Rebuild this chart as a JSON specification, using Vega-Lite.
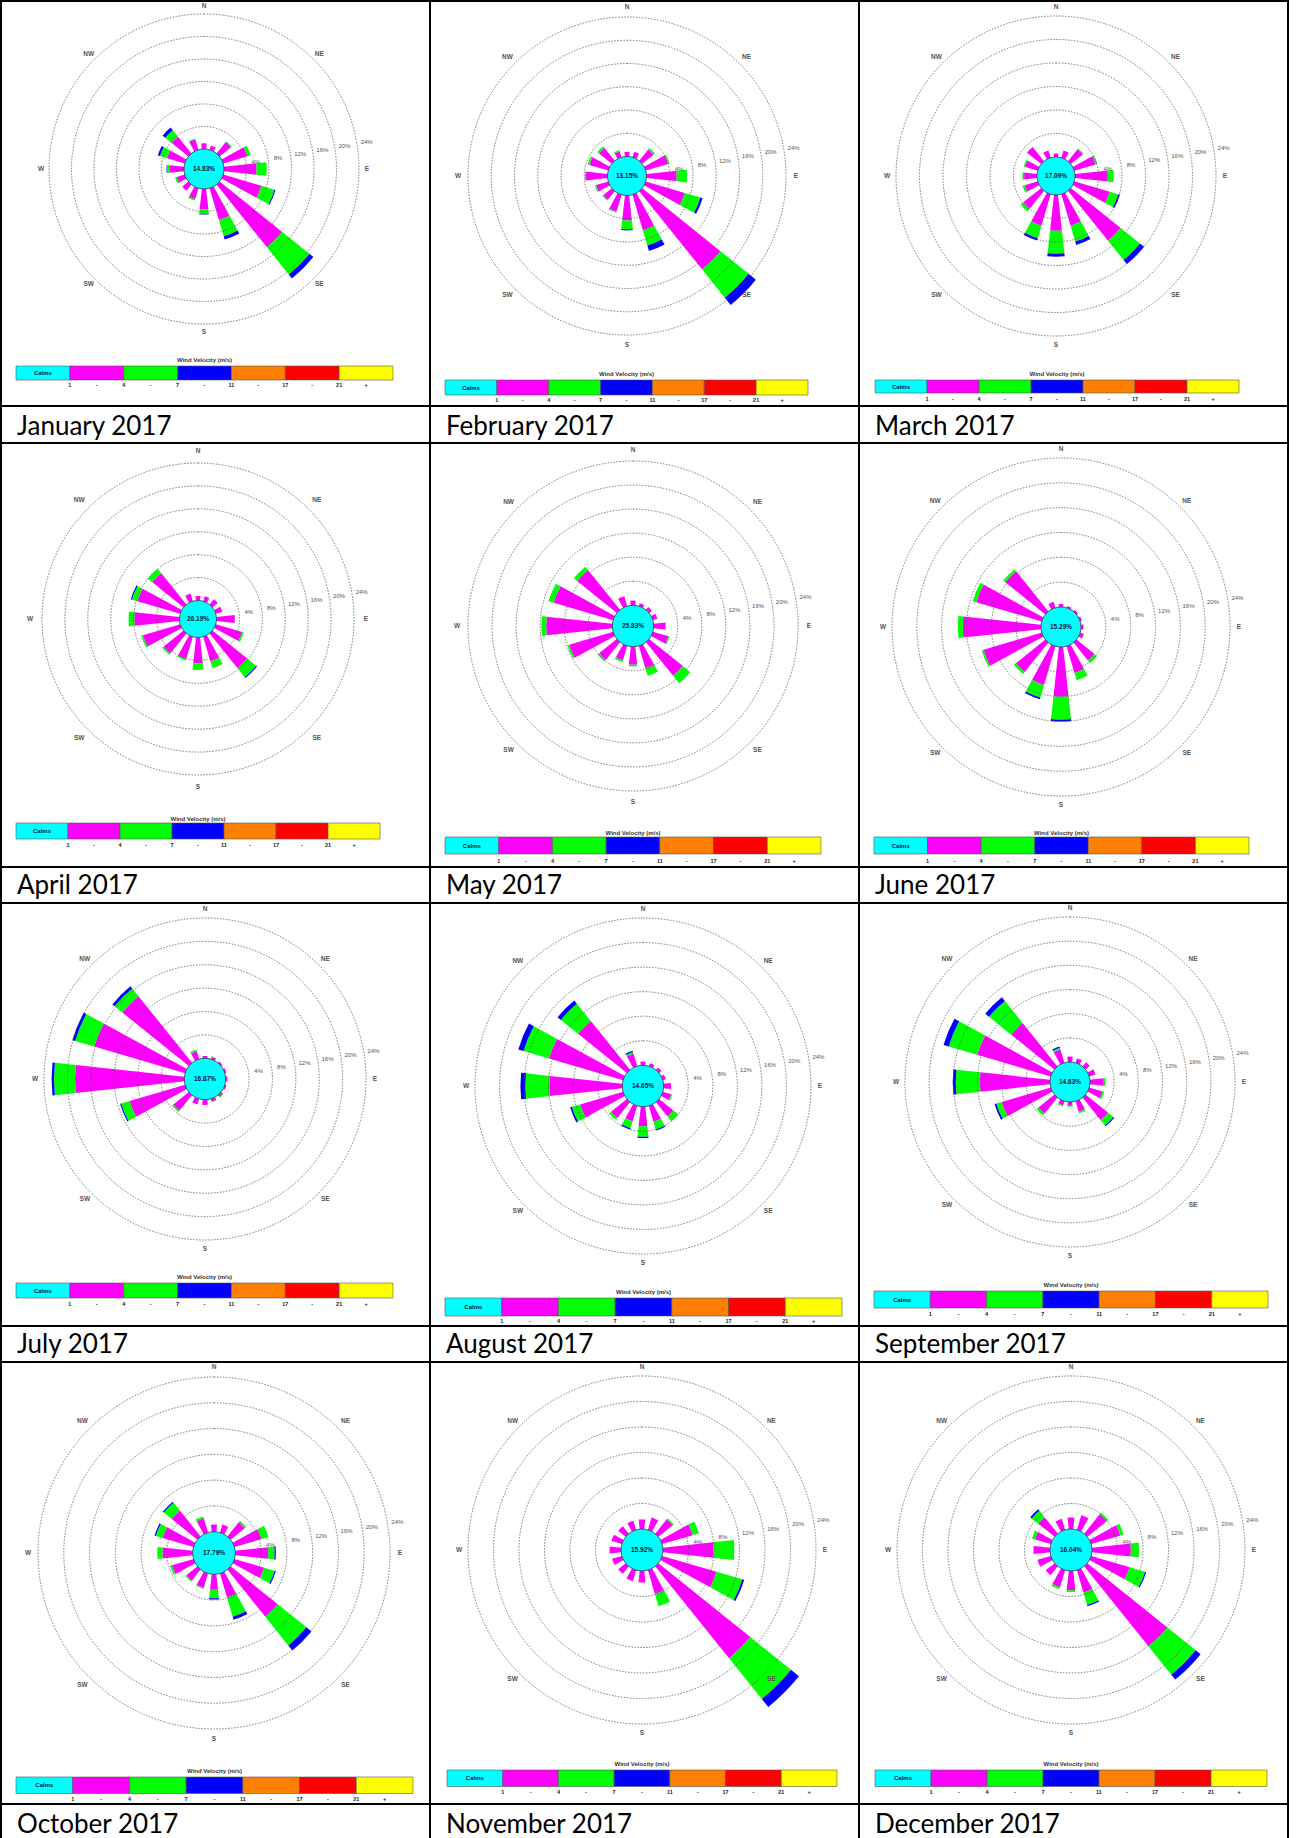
{
"$schema": "https://vega.github.io/schema/vega-lite/v6.json",
"background": "black",
"padding": 2,
"config": {"view": {"stroke": null, "fill": "white"}, "text": {"font": "Liberation Sans", "fontWeight": "bold", "fontSize": 6}},
"datasets": {
"rings": [{"p":4,"t":"4%"},{"p":8,"t":"8%"},{"p":12,"t":"12%"},{"p":16,"t":"16%"},{"p":20,"t":"20%"},{"p":24,"t":"24%"}],
"dirs": [{"n":"N","d":0},{"n":"NE","d":45},{"n":"E","d":90},{"n":"SE","d":135},{"n":"S","d":180},{"n":"SW","d":225},{"n":"W","d":270},{"n":"NW","d":315}],
"bins": [{"k":"c","edge":"1","mid":""},{"k":"s1","edge":"4","mid":"-"},{"k":"s2","edge":"7","mid":"-"},{"k":"s3","edge":"11","mid":"-"},{"k":"s4","edge":"17","mid":"-"},{"k":"s5","edge":"21","mid":"-"},{"k":"s6","edge":"","mid":"+"}],
"months": [
{"m":"Jan","name":"January 2017","c":0.1483},{"m":"Feb","name":"February 2017","c":0.1315},{"m":"Mar","name":"March 2017","c":0.1709},
{"m":"Apr","name":"April 2017","c":0.2619},{"m":"May","name":"May 2017","c":0.2583},{"m":"Jun","name":"June 2017","c":0.1529},
{"m":"Jul","name":"July 2017","c":0.1687},{"m":"Aug","name":"August 2017","c":0.1465},{"m":"Sep","name":"September 2017","c":0.1463},
{"m":"Oct","name":"October 2017","c":0.1779},{"m":"Nov","name":"November 2017","c":0.1592},{"m":"Dec","name":"December 2017","c":0.1604}],
"wind": [
{"m":"Jan","d":0,"s1":1.0,"s2":0,"s3":0},{"m":"Jan","d":22.5,"s1":0.8,"s2":0,"s3":0},{"m":"Jan","d":45,"s1":2.6,"s2":0.2,"s3":0},{"m":"Jan","d":67.5,"s1":4.5,"s2":0.6,"s3":0},
{"m":"Jan","d":90,"s1":5.8,"s2":1.8,"s3":0},{"m":"Jan","d":112.5,"s1":7.1,"s2":2.4,"s3":0.2},{"m":"Jan","d":135,"s1":14.3,"s2":6.2,"s3":0.9},{"m":"Jan","d":157.5,"s1":5.9,"s2":3.0,"s3":0.6},
{"m":"Jan","d":180,"s1":3.6,"s2":0.8,"s3":0.15},{"m":"Jan","d":202.5,"s1":2.0,"s2":0.3,"s3":0},{"m":"Jan","d":225,"s1":1.4,"s2":0,"s3":0},{"m":"Jan","d":247.5,"s1":1.5,"s2":0.3,"s3":0},
{"m":"Jan","d":270,"s1":2.5,"s2":0.5,"s3":0.1},{"m":"Jan","d":292.5,"s1":3.3,"s2":1.3,"s3":0.4},{"m":"Jan","d":315,"s1":3.8,"s2":1.5,"s3":0.6},{"m":"Jan","d":337.5,"s1":1.9,"s2":0.2,"s3":0},
{"m":"Feb","d":0,"s1":0.8,"s2":0,"s3":0},{"m":"Feb","d":22.5,"s1":1.0,"s2":0,"s3":0},{"m":"Feb","d":45,"s1":2.5,"s2":0.3,"s3":0},{"m":"Feb","d":67.5,"s1":4.0,"s2":0.3,"s3":0},
{"m":"Feb","d":90,"s1":5.2,"s2":1.8,"s3":0},{"m":"Feb","d":112.5,"s1":7.0,"s2":2.8,"s3":0.4},{"m":"Feb","d":135,"s1":17.3,"s2":6.2,"s3":1.6},{"m":"Feb","d":157.5,"s1":6.4,"s2":2.7,"s3":1.0},
{"m":"Feb","d":180,"s1":4.3,"s2":1.5,"s3":0.2},{"m":"Feb","d":202.5,"s1":3.0,"s2":0.2,"s3":0},{"m":"Feb","d":225,"s1":1.9,"s2":0.2,"s3":0},{"m":"Feb","d":247.5,"s1":2.2,"s2":0.2,"s3":0},
{"m":"Feb","d":270,"s1":3.7,"s2":0.2,"s3":0},{"m":"Feb","d":292.5,"s1":3.4,"s2":0.3,"s3":0},{"m":"Feb","d":315,"s1":2.8,"s2":0.4,"s3":0},{"m":"Feb","d":337.5,"s1":1.1,"s2":0.2,"s3":0},
{"m":"Mar","d":0,"s1":0.6,"s2":0,"s3":0},{"m":"Mar","d":22.5,"s1":1.3,"s2":0,"s3":0},{"m":"Mar","d":45,"s1":2.6,"s2":0.2,"s3":0},{"m":"Mar","d":67.5,"s1":3.8,"s2":0.3,"s3":0},
{"m":"Mar","d":90,"s1":5.6,"s2":1.0,"s3":0},{"m":"Mar","d":112.5,"s1":6.3,"s2":1.5,"s3":0.3},{"m":"Mar","d":135,"s1":10.9,"s2":4.2,"s3":0.9},{"m":"Mar","d":157.5,"s1":5.6,"s2":2.8,"s3":0.6},
{"m":"Mar","d":180,"s1":6.1,"s2":3.9,"s3":0.5},{"m":"Mar","d":202.5,"s1":5.6,"s2":2.2,"s3":0.4},{"m":"Mar","d":225,"s1":3.9,"s2":0.6,"s3":0},{"m":"Mar","d":247.5,"s1":2.3,"s2":0.4,"s3":0},
{"m":"Mar","d":270,"s1":2.2,"s2":0.3,"s3":0},{"m":"Mar","d":292.5,"s1":2.3,"s2":0.2,"s3":0},{"m":"Mar","d":315,"s1":3.1,"s2":0,"s3":0},{"m":"Mar","d":337.5,"s1":1.3,"s2":0,"s3":0},
{"m":"Apr","d":0,"s1":0.8,"s2":0,"s3":0},{"m":"Apr","d":22.5,"s1":0.9,"s2":0,"s3":0},{"m":"Apr","d":45,"s1":1.2,"s2":0,"s3":0},{"m":"Apr","d":67.5,"s1":1.2,"s2":0,"s3":0},
{"m":"Apr","d":90,"s1":3.2,"s2":0,"s3":0},{"m":"Apr","d":112.5,"s1":4.8,"s2":0.3,"s3":0},{"m":"Apr","d":135,"s1":7.8,"s2":2.0,"s3":0.2},{"m":"Apr","d":157.5,"s1":4.5,"s2":1.2,"s3":0},
{"m":"Apr","d":180,"s1":4.5,"s2":1.2,"s3":0},{"m":"Apr","d":202.5,"s1":4.0,"s2":0.3,"s3":0},{"m":"Apr","d":225,"s1":4.5,"s2":0.3,"s3":0},{"m":"Apr","d":247.5,"s1":6.8,"s2":0.3,"s3":0},
{"m":"Apr","d":270,"s1":7.9,"s2":1.0,"s3":0},{"m":"Apr","d":292.5,"s1":7.8,"s2":1.0,"s3":0.2},{"m":"Apr","d":315,"s1":7.0,"s2":1.0,"s3":0},{"m":"Apr","d":337.5,"s1":1.4,"s2":0,"s3":0},
{"m":"May","d":0,"s1":0.8,"s2":0,"s3":0},{"m":"May","d":22.5,"s1":0.5,"s2":0,"s3":0},{"m":"May","d":45,"s1":0.6,"s2":0,"s3":0},{"m":"May","d":67.5,"s1":0.8,"s2":0,"s3":0},
{"m":"May","d":90,"s1":2.0,"s2":0,"s3":0},{"m":"May","d":112.5,"s1":2.7,"s2":0.2,"s3":0},{"m":"May","d":135,"s1":7.2,"s2":1.6,"s3":0},{"m":"May","d":157.5,"s1":3.9,"s2":1.3,"s3":0},
{"m":"May","d":180,"s1":3.0,"s2":0.3,"s3":0},{"m":"May","d":202.5,"s1":2.5,"s2":0.3,"s3":0},{"m":"May","d":225,"s1":3.8,"s2":0.3,"s3":0},{"m":"May","d":247.5,"s1":7.6,"s2":0.3,"s3":0},
{"m":"May","d":270,"s1":11.0,"s2":0.8,"s3":0},{"m":"May","d":292.5,"s1":10.3,"s2":0.9,"s3":0},{"m":"May","d":315,"s1":8.5,"s2":0.7,"s3":0},{"m":"May","d":337.5,"s1":1.7,"s2":0,"s3":0},
{"m":"Jun","d":0,"s1":0.5,"s2":0,"s3":0},{"m":"Jun","d":22.5,"s1":0.3,"s2":0,"s3":0},{"m":"Jun","d":45,"s1":0.3,"s2":0,"s3":0},{"m":"Jun","d":67.5,"s1":0.3,"s2":0,"s3":0},
{"m":"Jun","d":90,"s1":0.4,"s2":0,"s3":0},{"m":"Jun","d":112.5,"s1":0.6,"s2":0,"s3":0},{"m":"Jun","d":135,"s1":3.7,"s2":0.5,"s3":0},{"m":"Jun","d":157.5,"s1":4.5,"s2":1.2,"s3":0},
{"m":"Jun","d":180,"s1":8.0,"s2":3.7,"s3":0.3},{"m":"Jun","d":202.5,"s1":6.5,"s2":2.1,"s3":0.3},{"m":"Jun","d":225,"s1":6.1,"s2":0.4,"s3":0},{"m":"Jun","d":247.5,"s1":9.8,"s2":0.3,"s3":0},
{"m":"Jun","d":270,"s1":12.6,"s2":0.8,"s3":0},{"m":"Jun","d":292.5,"s1":11.0,"s2":0.6,"s3":0},{"m":"Jun","d":315,"s1":8.3,"s2":0.4,"s3":0},{"m":"Jun","d":337.5,"s1":1.0,"s2":0,"s3":0},
{"m":"Jul","d":0,"s1":0.4,"s2":0,"s3":0},{"m":"Jul","d":22.5,"s1":0.4,"s2":0.1,"s3":0},{"m":"Jul","d":45,"s1":0.3,"s2":0,"s3":0},{"m":"Jul","d":67.5,"s1":0.3,"s2":0,"s3":0},
{"m":"Jul","d":90,"s1":0.3,"s2":0,"s3":0},{"m":"Jul","d":112.5,"s1":0.3,"s2":0,"s3":0},{"m":"Jul","d":135,"s1":0.4,"s2":0.1,"s3":0},{"m":"Jul","d":157.5,"s1":0.5,"s2":0.1,"s3":0},
{"m":"Jul","d":180,"s1":0.9,"s2":0,"s3":0},{"m":"Jul","d":202.5,"s1":1.0,"s2":0,"s3":0},{"m":"Jul","d":225,"s1":3.4,"s2":0.3,"s3":0},{"m":"Jul","d":247.5,"s1":9.9,"s2":1.5,"s3":0.2},
{"m":"Jul","d":270,"s1":18.7,"s2":3.6,"s3":0.4},{"m":"Jul","d":292.5,"s1":16.2,"s2":3.4,"s3":0.5},{"m":"Jul","d":315,"s1":14.6,"s2":1.7,"s3":0.5},{"m":"Jul","d":337.5,"s1":1.4,"s2":0.3,"s3":0},
{"m":"Aug","d":0,"s1":0.6,"s2":0,"s3":0},{"m":"Aug","d":22.5,"s1":0.5,"s2":0,"s3":0},{"m":"Aug","d":45,"s1":0.5,"s2":0,"s3":0},{"m":"Aug","d":67.5,"s1":0.5,"s2":0,"s3":0},
{"m":"Aug","d":90,"s1":1.2,"s2":0,"s3":0},{"m":"Aug","d":112.5,"s1":1.4,"s2":0.2,"s3":0},{"m":"Aug","d":135,"s1":3.0,"s2":1.0,"s3":0},{"m":"Aug","d":157.5,"s1":2.7,"s2":1.3,"s3":0.2},
{"m":"Aug","d":180,"s1":3.2,"s2":1.7,"s3":0.2},{"m":"Aug","d":202.5,"s1":2.6,"s2":1.2,"s3":0.2},{"m":"Aug","d":225,"s1":3.3,"s2":0.4,"s3":0},{"m":"Aug","d":247.5,"s1":7.3,"s2":1.4,"s3":0.3},
{"m":"Aug","d":270,"s1":11.9,"s2":3.9,"s3":0.8},{"m":"Aug","d":292.5,"s1":12.6,"s2":4.3,"s3":0.9},{"m":"Aug","d":315,"s1":10.2,"s2":3.6,"s3":0.7},{"m":"Aug","d":337.5,"s1":2.1,"s2":0.3,"s3":0.2},
{"m":"Sep","d":0,"s1":0.9,"s2":0,"s3":0},{"m":"Sep","d":22.5,"s1":0.8,"s2":0,"s3":0},{"m":"Sep","d":45,"s1":0.9,"s2":0,"s3":0},{"m":"Sep","d":67.5,"s1":1.1,"s2":0,"s3":0},
{"m":"Sep","d":90,"s1":2.3,"s2":0.3,"s3":0},{"m":"Sep","d":112.5,"s1":2.3,"s2":0.3,"s3":0},{"m":"Sep","d":135,"s1":4.8,"s2":1.1,"s3":0.2},{"m":"Sep","d":157.5,"s1":1.8,"s2":0.3,"s3":0},
{"m":"Sep","d":180,"s1":0.6,"s2":0.2,"s3":0},{"m":"Sep","d":202.5,"s1":0.7,"s2":0.2,"s3":0},{"m":"Sep","d":225,"s1":3.4,"s2":0.4,"s3":0},{"m":"Sep","d":247.5,"s1":8.5,"s2":0.9,"s3":0.3},
{"m":"Sep","d":270,"s1":11.6,"s2":4.0,"s3":0.5},{"m":"Sep","d":292.5,"s1":12.7,"s2":4.9,"s3":0.9},{"m":"Sep","d":315,"s1":9.2,"s2":4.7,"s3":0.8},{"m":"Sep","d":337.5,"s1":2.3,"s2":0.3,"s3":0.2},
{"m":"Oct","d":0,"s1":1.1,"s2":0,"s3":0},{"m":"Oct","d":22.5,"s1":1.3,"s2":0,"s3":0},{"m":"Oct","d":45,"s1":2.8,"s2":0.3,"s3":0},{"m":"Oct","d":67.5,"s1":4.4,"s2":1.1,"s3":0},
{"m":"Oct","d":90,"s1":5.1,"s2":1.0,"s3":0.2},{"m":"Oct","d":112.5,"s1":4.8,"s2":1.7,"s3":0.2},{"m":"Oct","d":135,"s1":9.4,"s2":5.7,"s3":1.0},{"m":"Oct","d":157.5,"s1":3.9,"s2":3.1,"s3":0.5},
{"m":"Oct","d":180,"s1":2.4,"s2":1.3,"s3":0.2},{"m":"Oct","d":202.5,"s1":2.3,"s2":0.2,"s3":0},{"m":"Oct","d":225,"s1":2.2,"s2":0.2,"s3":0},{"m":"Oct","d":247.5,"s1":3.5,"s2":0.3,"s3":0},
{"m":"Oct","d":270,"s1":4.7,"s2":0.8,"s3":0},{"m":"Oct","d":292.5,"s1":5.0,"s2":1.1,"s3":0.2},{"m":"Oct","d":315,"s1":5.1,"s2":1.6,"s3":0.2},{"m":"Oct","d":337.5,"s1":2.3,"s2":0.3,"s3":0},
{"m":"Nov","d":0,"s1":1.5,"s2":0,"s3":0},{"m":"Nov","d":22.5,"s1":2.0,"s2":0,"s3":0},{"m":"Nov","d":45,"s1":2.9,"s2":0.2,"s3":0},{"m":"Nov","d":67.5,"s1":5.0,"s2":1.0,"s3":0},
{"m":"Nov","d":90,"s1":7.9,"s2":3.3,"s3":0},{"m":"Nov","d":112.5,"s1":8.9,"s2":4.2,"s3":0.3},{"m":"Nov","d":135,"s1":18.5,"s2":8.2,"s3":1.6},{"m":"Nov","d":157.5,"s1":3.9,"s2":2.0,"s3":0},
{"m":"Nov","d":180,"s1":1.8,"s2":0,"s3":0},{"m":"Nov","d":202.5,"s1":1.8,"s2":0,"s3":0},{"m":"Nov","d":225,"s1":1.5,"s2":0,"s3":0},{"m":"Nov","d":247.5,"s1":1.6,"s2":0,"s3":0},
{"m":"Nov","d":270,"s1":1.8,"s2":0,"s3":0},{"m":"Nov","d":292.5,"s1":1.7,"s2":0,"s3":0},{"m":"Nov","d":315,"s1":1.5,"s2":0,"s3":0},{"m":"Nov","d":337.5,"s1":1.5,"s2":0,"s3":0},
{"m":"Dec","d":0,"s1":1.8,"s2":0,"s3":0},{"m":"Dec","d":22.5,"s1":2.4,"s2":0,"s3":0},{"m":"Dec","d":45,"s1":3.9,"s2":0.3,"s3":0},{"m":"Dec","d":67.5,"s1":4.8,"s2":0.5,"s3":0},
{"m":"Dec","d":90,"s1":6.1,"s2":1.3,"s3":0},{"m":"Dec","d":112.5,"s1":6.3,"s2":2.5,"s3":0.2},{"m":"Dec","d":135,"s1":16.1,"s2":5.7,"s3":1.0},{"m":"Dec","d":157.5,"s1":3.7,"s2":2.0,"s3":0.2},
{"m":"Dec","d":180,"s1":3.0,"s2":0.3,"s3":0},{"m":"Dec","d":202.5,"s1":2.8,"s2":0.3,"s3":0},{"m":"Dec","d":225,"s1":1.8,"s2":0,"s3":0},{"m":"Dec","d":247.5,"s1":2.2,"s2":0,"s3":0},
{"m":"Dec","d":270,"s1":2.6,"s2":0,"s3":0},{"m":"Dec","d":292.5,"s1":2.6,"s2":0.5,"s3":0},{"m":"Dec","d":315,"s1":3.3,"s2":1.3,"s3":0.3},{"m":"Dec","d":337.5,"s1":1.8,"s2":0,"s3":0}
]
},
"spacing": 2,
"vconcat": [
{"spacing": 2, "hconcat": [
{"spacing": 2, "vconcat": [{"spacing": 0, "vconcat": [{"spacing": 0, "hconcat": [
 {"width": 404, "height": 334, "layer": [
  {"data": {"values": [{}]}, "mark": {"type": "rect", "color": "white"}, "encoding": {}},
  {"data": {"name": "wind"}, "transform": [{"filter": "datum.m == 'Jan'"}, {"fold": ["s1","s2","s3"], "as": ["k","p"]}, {"filter": "datum.p > 0"}, {"stack": "p", "groupby": ["d"], "sort": [{"field": "k", "order": "ascending"}], "as": ["r0","r1"]}],
   "mark": {"type": "arc", "thetaOffset": -0.108, "theta2Offset": 0.108},
   "encoding": {"theta": {"field": "d", "type": "quantitative", "stack": null, "scale": {"domain": [0, 360], "range": [0, 6.283185307179586]}}, "theta2": {"field": "d"},
    "radius": {"field": "r1", "type": "quantitative", "stack": null, "scale": {"type": "linear", "zero": false, "domain": [0, 24], "range": [20, 155]}}, "radius2": {"field": "r0"},
    "color": {"field": "k", "type": "nominal", "legend": null, "scale": {"domain": ["c","s1","s2","s3","s4","s5","s6"], "range": ["#00FFFF","#FF00FF","#00FF00","#0000FF","#FF8000","#FF0000","#FFFF00"]}}}},
  {"data": {"name": "rings"}, "mark": {"type": "arc", "fillOpacity": 0, "stroke": "#555555", "strokeWidth": 0.8, "strokeDash": [1.5, 1.5]}, "encoding": {"theta": {"datum": 0, "type": "quantitative"}, "theta2": {"datum": 360}, "radius": {"field": "p", "type": "quantitative", "stack": null}, "radius2": {"value": 0}}},
  {"data": {"name": "months"}, "transform": [{"filter": "datum.m == 'Jan'"}], "mark": {"type": "arc", "color": "#00FFFF", "fill": "#00FFFF", "fillOpacity": 1, "stroke": "#333333", "strokeWidth": 0.8}, "encoding": {"theta": {"datum": 0, "type": "quantitative"}, "theta2": {"datum": 360}, "radius": {"datum": 0, "type": "quantitative", "stack": null}, "radius2": {"value": 0}}},
  {"data": {"name": "months"}, "transform": [{"filter": "datum.m == 'Jan'"}], "mark": {"type": "text", "fontSize": 6.5, "fill": "#10103a"}, "encoding": {"text": {"field": "c", "type": "quantitative", "format": ".2%"}}},
  {"data": {"name": "dirs"}, "mark": {"type": "text", "fontSize": 6.5, "fill": "#555555"}, "encoding": {"theta": {"field": "d", "type": "quantitative", "stack": null}, "radius": {"datum": 25.42, "type": "quantitative", "stack": null}, "text": {"field": "n"}}},
  {"data": {"name": "rings"}, "mark": {"type": "text", "fontWeight": "normal", "fill": "#555555", "dx": 10}, "encoding": {"theta": {"datum": 80, "type": "quantitative"}, "radius": {"field": "p", "type": "quantitative", "stack": null}, "text": {"field": "t"}}}
 ]},
 {"width": 23, "height": 334, "data": {"values": [{}]}, "mark": {"type": "rect", "color": "white"}, "encoding": {}}
]},
 {"width": 427, "height": 69, "data": {"name": "bins"}, "layer": [
  {"mark": {"type": "rect", "color": "white"}, "encoding": {}},
  {"mark": {"type": "rect", "stroke": "#555555", "strokeWidth": 0.6}, "encoding": {"x": {"field": "k", "type": "nominal", "axis": null, "scale": {"type": "band", "domain": ["c","s1","s2","s3","s4","s5","s6"], "range": [14, 391], "paddingInner": 0, "paddingOuter": 0}}, "y": {"value": 30}, "y2": {"value": 44}, "color": {"field": "k", "type": "nominal", "legend": null, "scale": {"domain": ["c","s1","s2","s3","s4","s5","s6"], "range": ["#00FFFF","#FF00FF","#00FF00","#0000FF","#FF8000","#FF0000","#FFFF00"]}}}},
  {"transform": [{"filter": "datum.k == 'c'"}], "mark": {"type": "text", "text": "Calms", "fill": "#10103a"}, "encoding": {"x": {"field": "k", "type": "nominal", "bandPosition": 0.5}, "y": {"value": 37}}},
  {"mark": {"type": "text", "fontSize": 5.5, "fill": "#222222"}, "encoding": {"x": {"field": "k", "type": "nominal", "bandPosition": 1}, "y": {"value": 49}, "text": {"field": "edge"}}},
  {"mark": {"type": "text", "fontSize": 5.5, "fill": "#222222"}, "encoding": {"x": {"field": "k", "type": "nominal", "bandPosition": 0.5}, "y": {"value": 49}, "text": {"field": "mid"}}},
  {"transform": [{"filter": "datum.k == 's3'"}], "mark": {"type": "text", "text": "Wind Velocity (m/s)", "fill": "#333333"}, "encoding": {"x": {"field": "k", "type": "nominal", "bandPosition": 0.5}, "y": {"value": 24}}}
 ]}
]},
 {"width": 427, "height": 35, "data": {"name": "months"}, "transform": [{"filter": "datum.m == 'Jan'"}], "layer": [
  {"mark": {"type": "rect", "color": "white"}, "encoding": {}},
  {"mark": {"type": "text", "align": "left", "baseline": "alphabetic", "font": "Lato", "fontWeight": "normal", "fontSize": 26, "fill": "black"}, "encoding": {"text": {"field": "name"}, "x": {"value": 15}, "y": {"value": 28}}}
 ]}
]},
{"spacing": 2, "vconcat": [{"spacing": 0, "vconcat": [{"spacing": 0, "hconcat": [
 {"width": 392, "height": 348, "layer": [
  {"data": {"values": [{}]}, "mark": {"type": "rect", "color": "white"}, "encoding": {}},
  {"data": {"name": "wind"}, "transform": [{"filter": "datum.m == 'Feb'"}, {"fold": ["s1","s2","s3"], "as": ["k","p"]}, {"filter": "datum.p > 0"}, {"stack": "p", "groupby": ["d"], "sort": [{"field": "k", "order": "ascending"}], "as": ["r0","r1"]}],
   "mark": {"type": "arc", "thetaOffset": -0.108, "theta2Offset": 0.108},
   "encoding": {"theta": {"field": "d", "type": "quantitative", "stack": null, "scale": {"domain": [0, 360], "range": [0, 6.283185307179586]}}, "theta2": {"field": "d"},
    "radius": {"field": "r1", "type": "quantitative", "stack": null, "scale": {"type": "linear", "zero": false, "domain": [0, 24], "range": [19.5, 159]}}, "radius2": {"field": "r0"},
    "color": {"field": "k", "type": "nominal", "legend": null, "scale": {"domain": ["c","s1","s2","s3","s4","s5","s6"], "range": ["#00FFFF","#FF00FF","#00FF00","#0000FF","#FF8000","#FF0000","#FFFF00"]}}}},
  {"data": {"name": "rings"}, "mark": {"type": "arc", "fillOpacity": 0, "stroke": "#555555", "strokeWidth": 0.8, "strokeDash": [1.5, 1.5]}, "encoding": {"theta": {"datum": 0, "type": "quantitative"}, "theta2": {"datum": 360}, "radius": {"field": "p", "type": "quantitative", "stack": null}, "radius2": {"value": 0}}},
  {"data": {"name": "months"}, "transform": [{"filter": "datum.m == 'Feb'"}], "mark": {"type": "arc", "color": "#00FFFF", "fill": "#00FFFF", "fillOpacity": 1, "stroke": "#333333", "strokeWidth": 0.8}, "encoding": {"theta": {"datum": 0, "type": "quantitative"}, "theta2": {"datum": 360}, "radius": {"datum": 0, "type": "quantitative", "stack": null}, "radius2": {"value": 0}}},
  {"data": {"name": "months"}, "transform": [{"filter": "datum.m == 'Feb'"}], "mark": {"type": "text", "fontSize": 6.5, "fill": "#10103a"}, "encoding": {"text": {"field": "c", "type": "quantitative", "format": ".2%"}}},
  {"data": {"name": "dirs"}, "mark": {"type": "text", "fontSize": 6.5, "fill": "#555555"}, "encoding": {"theta": {"field": "d", "type": "quantitative", "stack": null}, "radius": {"datum": 25.72, "type": "quantitative", "stack": null}, "text": {"field": "n"}}},
  {"data": {"name": "rings"}, "mark": {"type": "text", "fontWeight": "normal", "fill": "#555555", "dx": 10}, "encoding": {"theta": {"datum": 80, "type": "quantitative"}, "radius": {"field": "p", "type": "quantitative", "stack": null}, "text": {"field": "t"}}}
 ]},
 {"width": 35, "height": 348, "data": {"values": [{}]}, "mark": {"type": "rect", "color": "white"}, "encoding": {}}
]},
 {"width": 427, "height": 55, "data": {"name": "bins"}, "layer": [
  {"mark": {"type": "rect", "color": "white"}, "encoding": {}},
  {"mark": {"type": "rect", "stroke": "#555555", "strokeWidth": 0.6}, "encoding": {"x": {"field": "k", "type": "nominal", "axis": null, "scale": {"type": "band", "domain": ["c","s1","s2","s3","s4","s5","s6"], "range": [14, 377], "paddingInner": 0, "paddingOuter": 0}}, "y": {"value": 30}, "y2": {"value": 45}, "color": {"field": "k", "type": "nominal", "legend": null, "scale": {"domain": ["c","s1","s2","s3","s4","s5","s6"], "range": ["#00FFFF","#FF00FF","#00FF00","#0000FF","#FF8000","#FF0000","#FFFF00"]}}}},
  {"transform": [{"filter": "datum.k == 'c'"}], "mark": {"type": "text", "text": "Calms", "fill": "#10103a"}, "encoding": {"x": {"field": "k", "type": "nominal", "bandPosition": 0.5}, "y": {"value": 37.5}}},
  {"mark": {"type": "text", "fontSize": 5.5, "fill": "#222222"}, "encoding": {"x": {"field": "k", "type": "nominal", "bandPosition": 1}, "y": {"value": 50}, "text": {"field": "edge"}}},
  {"mark": {"type": "text", "fontSize": 5.5, "fill": "#222222"}, "encoding": {"x": {"field": "k", "type": "nominal", "bandPosition": 0.5}, "y": {"value": 50}, "text": {"field": "mid"}}},
  {"transform": [{"filter": "datum.k == 's3'"}], "mark": {"type": "text", "text": "Wind Velocity (m/s)", "fill": "#333333"}, "encoding": {"x": {"field": "k", "type": "nominal", "bandPosition": 0.5}, "y": {"value": 24}}}
 ]}
]},
 {"width": 427, "height": 35, "data": {"name": "months"}, "transform": [{"filter": "datum.m == 'Feb'"}], "layer": [
  {"mark": {"type": "rect", "color": "white"}, "encoding": {}},
  {"mark": {"type": "text", "align": "left", "baseline": "alphabetic", "font": "Lato", "fontWeight": "normal", "fontSize": 26, "fill": "black"}, "encoding": {"text": {"field": "name"}, "x": {"value": 15}, "y": {"value": 28}}}
 ]}
]},
{"spacing": 2, "vconcat": [{"spacing": 0, "vconcat": [{"spacing": 0, "hconcat": [
 {"width": 392, "height": 348, "layer": [
  {"data": {"values": [{}]}, "mark": {"type": "rect", "color": "white"}, "encoding": {}},
  {"data": {"name": "wind"}, "transform": [{"filter": "datum.m == 'Mar'"}, {"fold": ["s1","s2","s3"], "as": ["k","p"]}, {"filter": "datum.p > 0"}, {"stack": "p", "groupby": ["d"], "sort": [{"field": "k", "order": "ascending"}], "as": ["r0","r1"]}],
   "mark": {"type": "arc", "thetaOffset": -0.108, "theta2Offset": 0.108},
   "encoding": {"theta": {"field": "d", "type": "quantitative", "stack": null, "scale": {"domain": [0, 360], "range": [0, 6.283185307179586]}}, "theta2": {"field": "d"},
    "radius": {"field": "r1", "type": "quantitative", "stack": null, "scale": {"type": "linear", "zero": false, "domain": [0, 24], "range": [19, 160]}}, "radius2": {"field": "r0"},
    "color": {"field": "k", "type": "nominal", "legend": null, "scale": {"domain": ["c","s1","s2","s3","s4","s5","s6"], "range": ["#00FFFF","#FF00FF","#00FF00","#0000FF","#FF8000","#FF0000","#FFFF00"]}}}},
  {"data": {"name": "rings"}, "mark": {"type": "arc", "fillOpacity": 0, "stroke": "#555555", "strokeWidth": 0.8, "strokeDash": [1.5, 1.5]}, "encoding": {"theta": {"datum": 0, "type": "quantitative"}, "theta2": {"datum": 360}, "radius": {"field": "p", "type": "quantitative", "stack": null}, "radius2": {"value": 0}}},
  {"data": {"name": "months"}, "transform": [{"filter": "datum.m == 'Mar'"}], "mark": {"type": "arc", "color": "#00FFFF", "fill": "#00FFFF", "fillOpacity": 1, "stroke": "#333333", "strokeWidth": 0.8}, "encoding": {"theta": {"datum": 0, "type": "quantitative"}, "theta2": {"datum": 360}, "radius": {"datum": 0, "type": "quantitative", "stack": null}, "radius2": {"value": 0}}},
  {"data": {"name": "months"}, "transform": [{"filter": "datum.m == 'Mar'"}], "mark": {"type": "text", "fontSize": 6.5, "fill": "#10103a"}, "encoding": {"text": {"field": "c", "type": "quantitative", "format": ".2%"}}},
  {"data": {"name": "dirs"}, "mark": {"type": "text", "fontSize": 6.5, "fill": "#555555"}, "encoding": {"theta": {"field": "d", "type": "quantitative", "stack": null}, "radius": {"datum": 25.53, "type": "quantitative", "stack": null}, "text": {"field": "n"}}},
  {"data": {"name": "rings"}, "mark": {"type": "text", "fontWeight": "normal", "fill": "#555555", "dx": 10}, "encoding": {"theta": {"datum": 80, "type": "quantitative"}, "radius": {"field": "p", "type": "quantitative", "stack": null}, "text": {"field": "t"}}}
 ]},
 {"width": 35, "height": 348, "data": {"values": [{}]}, "mark": {"type": "rect", "color": "white"}, "encoding": {}}
]},
 {"width": 427, "height": 55, "data": {"name": "bins"}, "layer": [
  {"mark": {"type": "rect", "color": "white"}, "encoding": {}},
  {"mark": {"type": "rect", "stroke": "#555555", "strokeWidth": 0.6}, "encoding": {"x": {"field": "k", "type": "nominal", "axis": null, "scale": {"type": "band", "domain": ["c","s1","s2","s3","s4","s5","s6"], "range": [15, 379], "paddingInner": 0, "paddingOuter": 0}}, "y": {"value": 30}, "y2": {"value": 43}, "color": {"field": "k", "type": "nominal", "legend": null, "scale": {"domain": ["c","s1","s2","s3","s4","s5","s6"], "range": ["#00FFFF","#FF00FF","#00FF00","#0000FF","#FF8000","#FF0000","#FFFF00"]}}}},
  {"transform": [{"filter": "datum.k == 'c'"}], "mark": {"type": "text", "text": "Calms", "fill": "#10103a"}, "encoding": {"x": {"field": "k", "type": "nominal", "bandPosition": 0.5}, "y": {"value": 36.5}}},
  {"mark": {"type": "text", "fontSize": 5.5, "fill": "#222222"}, "encoding": {"x": {"field": "k", "type": "nominal", "bandPosition": 1}, "y": {"value": 49}, "text": {"field": "edge"}}},
  {"mark": {"type": "text", "fontSize": 5.5, "fill": "#222222"}, "encoding": {"x": {"field": "k", "type": "nominal", "bandPosition": 0.5}, "y": {"value": 49}, "text": {"field": "mid"}}},
  {"transform": [{"filter": "datum.k == 's3'"}], "mark": {"type": "text", "text": "Wind Velocity (m/s)", "fill": "#333333"}, "encoding": {"x": {"field": "k", "type": "nominal", "bandPosition": 0.5}, "y": {"value": 24}}}
 ]}
]},
 {"width": 427, "height": 35, "data": {"name": "months"}, "transform": [{"filter": "datum.m == 'Mar'"}], "layer": [
  {"mark": {"type": "rect", "color": "white"}, "encoding": {}},
  {"mark": {"type": "text", "align": "left", "baseline": "alphabetic", "font": "Lato", "fontWeight": "normal", "fontSize": 26, "fill": "black"}, "encoding": {"text": {"field": "name"}, "x": {"value": 15}, "y": {"value": 28}}}
 ]}
]}
]},
{"spacing": 2, "hconcat": [
{"spacing": 2, "vconcat": [{"spacing": 0, "vconcat": [{"spacing": 0, "hconcat": [
 {"width": 392, "height": 350, "layer": [
  {"data": {"values": [{}]}, "mark": {"type": "rect", "color": "white"}, "encoding": {}},
  {"data": {"name": "wind"}, "transform": [{"filter": "datum.m == 'Apr'"}, {"fold": ["s1","s2","s3"], "as": ["k","p"]}, {"filter": "datum.p > 0"}, {"stack": "p", "groupby": ["d"], "sort": [{"field": "k", "order": "ascending"}], "as": ["r0","r1"]}],
   "mark": {"type": "arc", "thetaOffset": -0.108, "theta2Offset": 0.108},
   "encoding": {"theta": {"field": "d", "type": "quantitative", "stack": null, "scale": {"domain": [0, 360], "range": [0, 6.283185307179586]}}, "theta2": {"field": "d"},
    "radius": {"field": "r1", "type": "quantitative", "stack": null, "scale": {"type": "linear", "zero": false, "domain": [0, 24], "range": [18.5, 156]}}, "radius2": {"field": "r0"},
    "color": {"field": "k", "type": "nominal", "legend": null, "scale": {"domain": ["c","s1","s2","s3","s4","s5","s6"], "range": ["#00FFFF","#FF00FF","#00FF00","#0000FF","#FF8000","#FF0000","#FFFF00"]}}}},
  {"data": {"name": "rings"}, "mark": {"type": "arc", "fillOpacity": 0, "stroke": "#555555", "strokeWidth": 0.8, "strokeDash": [1.5, 1.5]}, "encoding": {"theta": {"datum": 0, "type": "quantitative"}, "theta2": {"datum": 360}, "radius": {"field": "p", "type": "quantitative", "stack": null}, "radius2": {"value": 0}}},
  {"data": {"name": "months"}, "transform": [{"filter": "datum.m == 'Apr'"}], "mark": {"type": "arc", "color": "#00FFFF", "fill": "#00FFFF", "fillOpacity": 1, "stroke": "#333333", "strokeWidth": 0.8}, "encoding": {"theta": {"datum": 0, "type": "quantitative"}, "theta2": {"datum": 360}, "radius": {"datum": 0, "type": "quantitative", "stack": null}, "radius2": {"value": 0}}},
  {"data": {"name": "months"}, "transform": [{"filter": "datum.m == 'Apr'"}], "mark": {"type": "text", "fontSize": 6.5, "fill": "#10103a"}, "encoding": {"text": {"field": "c", "type": "quantitative", "format": ".2%"}}},
  {"data": {"name": "dirs"}, "mark": {"type": "text", "fontSize": 6.5, "fill": "#555555"}, "encoding": {"theta": {"field": "d", "type": "quantitative", "stack": null}, "radius": {"datum": 26.09, "type": "quantitative", "stack": null}, "text": {"field": "n"}}},
  {"data": {"name": "rings"}, "mark": {"type": "text", "fontWeight": "normal", "fill": "#555555", "dx": 10}, "encoding": {"theta": {"datum": 80, "type": "quantitative"}, "radius": {"field": "p", "type": "quantitative", "stack": null}, "text": {"field": "t"}}}
 ]},
 {"width": 35, "height": 350, "data": {"values": [{}]}, "mark": {"type": "rect", "color": "white"}, "encoding": {}}
]},
 {"width": 427, "height": 72, "data": {"name": "bins"}, "layer": [
  {"mark": {"type": "rect", "color": "white"}, "encoding": {}},
  {"mark": {"type": "rect", "stroke": "#555555", "strokeWidth": 0.6}, "encoding": {"x": {"field": "k", "type": "nominal", "axis": null, "scale": {"type": "band", "domain": ["c","s1","s2","s3","s4","s5","s6"], "range": [14, 378], "paddingInner": 0, "paddingOuter": 0}}, "y": {"value": 29}, "y2": {"value": 45}, "color": {"field": "k", "type": "nominal", "legend": null, "scale": {"domain": ["c","s1","s2","s3","s4","s5","s6"], "range": ["#00FFFF","#FF00FF","#00FF00","#0000FF","#FF8000","#FF0000","#FFFF00"]}}}},
  {"transform": [{"filter": "datum.k == 'c'"}], "mark": {"type": "text", "text": "Calms", "fill": "#10103a"}, "encoding": {"x": {"field": "k", "type": "nominal", "bandPosition": 0.5}, "y": {"value": 37}}},
  {"mark": {"type": "text", "fontSize": 5.5, "fill": "#222222"}, "encoding": {"x": {"field": "k", "type": "nominal", "bandPosition": 1}, "y": {"value": 50.5}, "text": {"field": "edge"}}},
  {"mark": {"type": "text", "fontSize": 5.5, "fill": "#222222"}, "encoding": {"x": {"field": "k", "type": "nominal", "bandPosition": 0.5}, "y": {"value": 50.5}, "text": {"field": "mid"}}},
  {"transform": [{"filter": "datum.k == 's3'"}], "mark": {"type": "text", "text": "Wind Velocity (m/s)", "fill": "#333333"}, "encoding": {"x": {"field": "k", "type": "nominal", "bandPosition": 0.5}, "y": {"value": 25}}}
 ]}
]},
 {"width": 427, "height": 34, "data": {"name": "months"}, "transform": [{"filter": "datum.m == 'Apr'"}], "layer": [
  {"mark": {"type": "rect", "color": "white"}, "encoding": {}},
  {"mark": {"type": "text", "align": "left", "baseline": "alphabetic", "font": "Lato", "fontWeight": "normal", "fontSize": 26, "fill": "black"}, "encoding": {"text": {"field": "name"}, "x": {"value": 15}, "y": {"value": 26}}}
 ]}
]},
{"spacing": 2, "vconcat": [{"spacing": 0, "vconcat": [{"spacing": 0, "hconcat": [
 {"width": 404, "height": 364, "layer": [
  {"data": {"values": [{}]}, "mark": {"type": "rect", "color": "white"}, "encoding": {}},
  {"data": {"name": "wind"}, "transform": [{"filter": "datum.m == 'May'"}, {"fold": ["s1","s2","s3"], "as": ["k","p"]}, {"filter": "datum.p > 0"}, {"stack": "p", "groupby": ["d"], "sort": [{"field": "k", "order": "ascending"}], "as": ["r0","r1"]}],
   "mark": {"type": "arc", "thetaOffset": -0.108, "theta2Offset": 0.108},
   "encoding": {"theta": {"field": "d", "type": "quantitative", "stack": null, "scale": {"domain": [0, 360], "range": [0, 6.283185307179586]}}, "theta2": {"field": "d"},
    "radius": {"field": "r1", "type": "quantitative", "stack": null, "scale": {"type": "linear", "zero": false, "domain": [0, 24], "range": [20.7, 165]}}, "radius2": {"field": "r0"},
    "color": {"field": "k", "type": "nominal", "legend": null, "scale": {"domain": ["c","s1","s2","s3","s4","s5","s6"], "range": ["#00FFFF","#FF00FF","#00FF00","#0000FF","#FF8000","#FF0000","#FFFF00"]}}}},
  {"data": {"name": "rings"}, "mark": {"type": "arc", "fillOpacity": 0, "stroke": "#555555", "strokeWidth": 0.8, "strokeDash": [1.5, 1.5]}, "encoding": {"theta": {"datum": 0, "type": "quantitative"}, "theta2": {"datum": 360}, "radius": {"field": "p", "type": "quantitative", "stack": null}, "radius2": {"value": 0}}},
  {"data": {"name": "months"}, "transform": [{"filter": "datum.m == 'May'"}], "mark": {"type": "arc", "color": "#00FFFF", "fill": "#00FFFF", "fillOpacity": 1, "stroke": "#333333", "strokeWidth": 0.8}, "encoding": {"theta": {"datum": 0, "type": "quantitative"}, "theta2": {"datum": 360}, "radius": {"datum": 0, "type": "quantitative", "stack": null}, "radius2": {"value": 0}}},
  {"data": {"name": "months"}, "transform": [{"filter": "datum.m == 'May'"}], "mark": {"type": "text", "fontSize": 6.5, "fill": "#10103a"}, "encoding": {"text": {"field": "c", "type": "quantitative", "format": ".2%"}}},
  {"data": {"name": "dirs"}, "mark": {"type": "text", "fontSize": 6.5, "fill": "#555555"}, "encoding": {"theta": {"field": "d", "type": "quantitative", "stack": null}, "radius": {"datum": 25.83, "type": "quantitative", "stack": null}, "text": {"field": "n"}}},
  {"data": {"name": "rings"}, "mark": {"type": "text", "fontWeight": "normal", "fill": "#555555", "dx": 10}, "encoding": {"theta": {"datum": 80, "type": "quantitative"}, "radius": {"field": "p", "type": "quantitative", "stack": null}, "text": {"field": "t"}}}
 ]},
 {"width": 23, "height": 364, "data": {"values": [{}]}, "mark": {"type": "rect", "color": "white"}, "encoding": {}}
]},
 {"width": 427, "height": 58, "data": {"name": "bins"}, "layer": [
  {"mark": {"type": "rect", "color": "white"}, "encoding": {}},
  {"mark": {"type": "rect", "stroke": "#555555", "strokeWidth": 0.6}, "encoding": {"x": {"field": "k", "type": "nominal", "axis": null, "scale": {"type": "band", "domain": ["c","s1","s2","s3","s4","s5","s6"], "range": [14, 390], "paddingInner": 0, "paddingOuter": 0}}, "y": {"value": 29}, "y2": {"value": 46}, "color": {"field": "k", "type": "nominal", "legend": null, "scale": {"domain": ["c","s1","s2","s3","s4","s5","s6"], "range": ["#00FFFF","#FF00FF","#00FF00","#0000FF","#FF8000","#FF0000","#FFFF00"]}}}},
  {"transform": [{"filter": "datum.k == 'c'"}], "mark": {"type": "text", "text": "Calms", "fill": "#10103a"}, "encoding": {"x": {"field": "k", "type": "nominal", "bandPosition": 0.5}, "y": {"value": 37.5}}},
  {"mark": {"type": "text", "fontSize": 5.5, "fill": "#222222"}, "encoding": {"x": {"field": "k", "type": "nominal", "bandPosition": 1}, "y": {"value": 53}, "text": {"field": "edge"}}},
  {"mark": {"type": "text", "fontSize": 5.5, "fill": "#222222"}, "encoding": {"x": {"field": "k", "type": "nominal", "bandPosition": 0.5}, "y": {"value": 53}, "text": {"field": "mid"}}},
  {"transform": [{"filter": "datum.k == 's3'"}], "mark": {"type": "text", "text": "Wind Velocity (m/s)", "fill": "#333333"}, "encoding": {"x": {"field": "k", "type": "nominal", "bandPosition": 0.5}, "y": {"value": 25}}}
 ]}
]},
 {"width": 427, "height": 34, "data": {"name": "months"}, "transform": [{"filter": "datum.m == 'May'"}], "layer": [
  {"mark": {"type": "rect", "color": "white"}, "encoding": {}},
  {"mark": {"type": "text", "align": "left", "baseline": "alphabetic", "font": "Lato", "fontWeight": "normal", "fontSize": 26, "fill": "black"}, "encoding": {"text": {"field": "name"}, "x": {"value": 15}, "y": {"value": 26}}}
 ]}
]},
{"spacing": 2, "vconcat": [{"spacing": 0, "vconcat": [{"spacing": 0, "hconcat": [
 {"width": 402, "height": 366, "layer": [
  {"data": {"values": [{}]}, "mark": {"type": "rect", "color": "white"}, "encoding": {}},
  {"data": {"name": "wind"}, "transform": [{"filter": "datum.m == 'Jun'"}, {"fold": ["s1","s2","s3"], "as": ["k","p"]}, {"filter": "datum.p > 0"}, {"stack": "p", "groupby": ["d"], "sort": [{"field": "k", "order": "ascending"}], "as": ["r0","r1"]}],
   "mark": {"type": "arc", "thetaOffset": -0.108, "theta2Offset": 0.108},
   "encoding": {"theta": {"field": "d", "type": "quantitative", "stack": null, "scale": {"domain": [0, 360], "range": [0, 6.283185307179586]}}, "theta2": {"field": "d"},
    "radius": {"field": "r1", "type": "quantitative", "stack": null, "scale": {"type": "linear", "zero": false, "domain": [0, 24], "range": [20, 169]}}, "radius2": {"field": "r0"},
    "color": {"field": "k", "type": "nominal", "legend": null, "scale": {"domain": ["c","s1","s2","s3","s4","s5","s6"], "range": ["#00FFFF","#FF00FF","#00FF00","#0000FF","#FF8000","#FF0000","#FFFF00"]}}}},
  {"data": {"name": "rings"}, "mark": {"type": "arc", "fillOpacity": 0, "stroke": "#555555", "strokeWidth": 0.8, "strokeDash": [1.5, 1.5]}, "encoding": {"theta": {"datum": 0, "type": "quantitative"}, "theta2": {"datum": 360}, "radius": {"field": "p", "type": "quantitative", "stack": null}, "radius2": {"value": 0}}},
  {"data": {"name": "months"}, "transform": [{"filter": "datum.m == 'Jun'"}], "mark": {"type": "arc", "color": "#00FFFF", "fill": "#00FFFF", "fillOpacity": 1, "stroke": "#333333", "strokeWidth": 0.8}, "encoding": {"theta": {"datum": 0, "type": "quantitative"}, "theta2": {"datum": 360}, "radius": {"datum": 0, "type": "quantitative", "stack": null}, "radius2": {"value": 0}}},
  {"data": {"name": "months"}, "transform": [{"filter": "datum.m == 'Jun'"}], "mark": {"type": "text", "fontSize": 6.5, "fill": "#10103a"}, "encoding": {"text": {"field": "c", "type": "quantitative", "format": ".2%"}}},
  {"data": {"name": "dirs"}, "mark": {"type": "text", "fontSize": 6.5, "fill": "#555555"}, "encoding": {"theta": {"field": "d", "type": "quantitative", "stack": null}, "radius": {"datum": 25.45, "type": "quantitative", "stack": null}, "text": {"field": "n"}}},
  {"data": {"name": "rings"}, "mark": {"type": "text", "fontWeight": "normal", "fill": "#555555", "dx": 10}, "encoding": {"theta": {"datum": 80, "type": "quantitative"}, "radius": {"field": "p", "type": "quantitative", "stack": null}, "text": {"field": "t"}}}
 ]},
 {"width": 25, "height": 366, "data": {"values": [{}]}, "mark": {"type": "rect", "color": "white"}, "encoding": {}}
]},
 {"width": 427, "height": 56, "data": {"name": "bins"}, "layer": [
  {"mark": {"type": "rect", "color": "white"}, "encoding": {}},
  {"mark": {"type": "rect", "stroke": "#555555", "strokeWidth": 0.6}, "encoding": {"x": {"field": "k", "type": "nominal", "axis": null, "scale": {"type": "band", "domain": ["c","s1","s2","s3","s4","s5","s6"], "range": [14, 389], "paddingInner": 0, "paddingOuter": 0}}, "y": {"value": 27}, "y2": {"value": 44}, "color": {"field": "k", "type": "nominal", "legend": null, "scale": {"domain": ["c","s1","s2","s3","s4","s5","s6"], "range": ["#00FFFF","#FF00FF","#00FF00","#0000FF","#FF8000","#FF0000","#FFFF00"]}}}},
  {"transform": [{"filter": "datum.k == 'c'"}], "mark": {"type": "text", "text": "Calms", "fill": "#10103a"}, "encoding": {"x": {"field": "k", "type": "nominal", "bandPosition": 0.5}, "y": {"value": 35.5}}},
  {"mark": {"type": "text", "fontSize": 5.5, "fill": "#222222"}, "encoding": {"x": {"field": "k", "type": "nominal", "bandPosition": 1}, "y": {"value": 51}, "text": {"field": "edge"}}},
  {"mark": {"type": "text", "fontSize": 5.5, "fill": "#222222"}, "encoding": {"x": {"field": "k", "type": "nominal", "bandPosition": 0.5}, "y": {"value": 51}, "text": {"field": "mid"}}},
  {"transform": [{"filter": "datum.k == 's3'"}], "mark": {"type": "text", "text": "Wind Velocity (m/s)", "fill": "#333333"}, "encoding": {"x": {"field": "k", "type": "nominal", "bandPosition": 0.5}, "y": {"value": 23}}}
 ]}
]},
 {"width": 427, "height": 34, "data": {"name": "months"}, "transform": [{"filter": "datum.m == 'Jun'"}], "layer": [
  {"mark": {"type": "rect", "color": "white"}, "encoding": {}},
  {"mark": {"type": "text", "align": "left", "baseline": "alphabetic", "font": "Lato", "fontWeight": "normal", "fontSize": 26, "fill": "black"}, "encoding": {"text": {"field": "name"}, "x": {"value": 15}, "y": {"value": 26}}}
 ]}
]}
]},
{"spacing": 2, "hconcat": [
{"spacing": 2, "vconcat": [{"spacing": 0, "vconcat": [{"spacing": 0, "hconcat": [
 {"width": 406, "height": 350, "layer": [
  {"data": {"values": [{}]}, "mark": {"type": "rect", "color": "white"}, "encoding": {}},
  {"data": {"name": "wind"}, "transform": [{"filter": "datum.m == 'Jul'"}, {"fold": ["s1","s2","s3"], "as": ["k","p"]}, {"filter": "datum.p > 0"}, {"stack": "p", "groupby": ["d"], "sort": [{"field": "k", "order": "ascending"}], "as": ["r0","r1"]}],
   "mark": {"type": "arc", "thetaOffset": -0.108, "theta2Offset": 0.108},
   "encoding": {"theta": {"field": "d", "type": "quantitative", "stack": null, "scale": {"domain": [0, 360], "range": [0, 6.283185307179586]}}, "theta2": {"field": "d"},
    "radius": {"field": "r1", "type": "quantitative", "stack": null, "scale": {"type": "linear", "zero": false, "domain": [0, 24], "range": [20.7, 161]}}, "radius2": {"field": "r0"},
    "color": {"field": "k", "type": "nominal", "legend": null, "scale": {"domain": ["c","s1","s2","s3","s4","s5","s6"], "range": ["#00FFFF","#FF00FF","#00FF00","#0000FF","#FF8000","#FF0000","#FFFF00"]}}}},
  {"data": {"name": "rings"}, "mark": {"type": "arc", "fillOpacity": 0, "stroke": "#555555", "strokeWidth": 0.8, "strokeDash": [1.5, 1.5]}, "encoding": {"theta": {"datum": 0, "type": "quantitative"}, "theta2": {"datum": 360}, "radius": {"field": "p", "type": "quantitative", "stack": null}, "radius2": {"value": 0}}},
  {"data": {"name": "months"}, "transform": [{"filter": "datum.m == 'Jul'"}], "mark": {"type": "arc", "color": "#00FFFF", "fill": "#00FFFF", "fillOpacity": 1, "stroke": "#333333", "strokeWidth": 0.8}, "encoding": {"theta": {"datum": 0, "type": "quantitative"}, "theta2": {"datum": 360}, "radius": {"datum": 0, "type": "quantitative", "stack": null}, "radius2": {"value": 0}}},
  {"data": {"name": "months"}, "transform": [{"filter": "datum.m == 'Jul'"}], "mark": {"type": "text", "fontSize": 6.5, "fill": "#10103a"}, "encoding": {"text": {"field": "c", "type": "quantitative", "format": ".2%"}}},
  {"data": {"name": "dirs"}, "mark": {"type": "text", "fontSize": 6.5, "fill": "#555555"}, "encoding": {"theta": {"field": "d", "type": "quantitative", "stack": null}, "radius": {"datum": 25.54, "type": "quantitative", "stack": null}, "text": {"field": "n"}}},
  {"data": {"name": "rings"}, "mark": {"type": "text", "fontWeight": "normal", "fill": "#555555", "dx": 10}, "encoding": {"theta": {"datum": 80, "type": "quantitative"}, "radius": {"field": "p", "type": "quantitative", "stack": null}, "text": {"field": "t"}}}
 ]},
 {"width": 21, "height": 350, "data": {"values": [{}]}, "mark": {"type": "rect", "color": "white"}, "encoding": {}}
]},
 {"width": 427, "height": 71, "data": {"name": "bins"}, "layer": [
  {"mark": {"type": "rect", "color": "white"}, "encoding": {}},
  {"mark": {"type": "rect", "stroke": "#555555", "strokeWidth": 0.6}, "encoding": {"x": {"field": "k", "type": "nominal", "axis": null, "scale": {"type": "band", "domain": ["c","s1","s2","s3","s4","s5","s6"], "range": [14, 391], "paddingInner": 0, "paddingOuter": 0}}, "y": {"value": 29}, "y2": {"value": 44}, "color": {"field": "k", "type": "nominal", "legend": null, "scale": {"domain": ["c","s1","s2","s3","s4","s5","s6"], "range": ["#00FFFF","#FF00FF","#00FF00","#0000FF","#FF8000","#FF0000","#FFFF00"]}}}},
  {"transform": [{"filter": "datum.k == 'c'"}], "mark": {"type": "text", "text": "Calms", "fill": "#10103a"}, "encoding": {"x": {"field": "k", "type": "nominal", "bandPosition": 0.5}, "y": {"value": 36.5}}},
  {"mark": {"type": "text", "fontSize": 5.5, "fill": "#222222"}, "encoding": {"x": {"field": "k", "type": "nominal", "bandPosition": 1}, "y": {"value": 50}, "text": {"field": "edge"}}},
  {"mark": {"type": "text", "fontSize": 5.5, "fill": "#222222"}, "encoding": {"x": {"field": "k", "type": "nominal", "bandPosition": 0.5}, "y": {"value": 50}, "text": {"field": "mid"}}},
  {"transform": [{"filter": "datum.k == 's3'"}], "mark": {"type": "text", "text": "Wind Velocity (m/s)", "fill": "#333333"}, "encoding": {"x": {"field": "k", "type": "nominal", "bandPosition": 0.5}, "y": {"value": 23}}}
 ]}
]},
 {"width": 427, "height": 34, "data": {"name": "months"}, "transform": [{"filter": "datum.m == 'Jul'"}], "layer": [
  {"mark": {"type": "rect", "color": "white"}, "encoding": {}},
  {"mark": {"type": "text", "align": "left", "baseline": "alphabetic", "font": "Lato", "fontWeight": "normal", "fontSize": 26, "fill": "black"}, "encoding": {"text": {"field": "name"}, "x": {"value": 15}, "y": {"value": 26}}}
 ]}
]},
{"spacing": 2, "vconcat": [{"spacing": 0, "vconcat": [{"spacing": 0, "hconcat": [
 {"width": 424, "height": 364, "layer": [
  {"data": {"values": [{}]}, "mark": {"type": "rect", "color": "white"}, "encoding": {}},
  {"data": {"name": "wind"}, "transform": [{"filter": "datum.m == 'Aug'"}, {"fold": ["s1","s2","s3"], "as": ["k","p"]}, {"filter": "datum.p > 0"}, {"stack": "p", "groupby": ["d"], "sort": [{"field": "k", "order": "ascending"}], "as": ["r0","r1"]}],
   "mark": {"type": "arc", "thetaOffset": -0.108, "theta2Offset": 0.108},
   "encoding": {"theta": {"field": "d", "type": "quantitative", "stack": null, "scale": {"domain": [0, 360], "range": [0, 6.283185307179586]}}, "theta2": {"field": "d"},
    "radius": {"field": "r1", "type": "quantitative", "stack": null, "scale": {"type": "linear", "zero": false, "domain": [0, 24], "range": [20.7, 168]}}, "radius2": {"field": "r0"},
    "color": {"field": "k", "type": "nominal", "legend": null, "scale": {"domain": ["c","s1","s2","s3","s4","s5","s6"], "range": ["#00FFFF","#FF00FF","#00FF00","#0000FF","#FF8000","#FF0000","#FFFF00"]}}}},
  {"data": {"name": "rings"}, "mark": {"type": "arc", "fillOpacity": 0, "stroke": "#555555", "strokeWidth": 0.8, "strokeDash": [1.5, 1.5]}, "encoding": {"theta": {"datum": 0, "type": "quantitative"}, "theta2": {"datum": 360}, "radius": {"field": "p", "type": "quantitative", "stack": null}, "radius2": {"value": 0}}},
  {"data": {"name": "months"}, "transform": [{"filter": "datum.m == 'Aug'"}], "mark": {"type": "arc", "color": "#00FFFF", "fill": "#00FFFF", "fillOpacity": 1, "stroke": "#333333", "strokeWidth": 0.8}, "encoding": {"theta": {"datum": 0, "type": "quantitative"}, "theta2": {"datum": 360}, "radius": {"datum": 0, "type": "quantitative", "stack": null}, "radius2": {"value": 0}}},
  {"data": {"name": "months"}, "transform": [{"filter": "datum.m == 'Aug'"}], "mark": {"type": "text", "fontSize": 6.5, "fill": "#10103a"}, "encoding": {"text": {"field": "c", "type": "quantitative", "format": ".2%"}}},
  {"data": {"name": "dirs"}, "mark": {"type": "text", "fontSize": 6.5, "fill": "#555555"}, "encoding": {"theta": {"field": "d", "type": "quantitative", "stack": null}, "radius": {"datum": 25.47, "type": "quantitative", "stack": null}, "text": {"field": "n"}}},
  {"data": {"name": "rings"}, "mark": {"type": "text", "fontWeight": "normal", "fill": "#555555", "dx": 10}, "encoding": {"theta": {"datum": 80, "type": "quantitative"}, "radius": {"field": "p", "type": "quantitative", "stack": null}, "text": {"field": "t"}}}
 ]},
 {"width": 3, "height": 364, "data": {"values": [{}]}, "mark": {"type": "rect", "color": "white"}, "encoding": {}}
]},
 {"width": 427, "height": 57, "data": {"name": "bins"}, "layer": [
  {"mark": {"type": "rect", "color": "white"}, "encoding": {}},
  {"mark": {"type": "rect", "stroke": "#555555", "strokeWidth": 0.6}, "encoding": {"x": {"field": "k", "type": "nominal", "axis": null, "scale": {"type": "band", "domain": ["c","s1","s2","s3","s4","s5","s6"], "range": [14, 411], "paddingInner": 0, "paddingOuter": 0}}, "y": {"value": 30}, "y2": {"value": 48}, "color": {"field": "k", "type": "nominal", "legend": null, "scale": {"domain": ["c","s1","s2","s3","s4","s5","s6"], "range": ["#00FFFF","#FF00FF","#00FF00","#0000FF","#FF8000","#FF0000","#FFFF00"]}}}},
  {"transform": [{"filter": "datum.k == 'c'"}], "mark": {"type": "text", "text": "Calms", "fill": "#10103a"}, "encoding": {"x": {"field": "k", "type": "nominal", "bandPosition": 0.5}, "y": {"value": 39}}},
  {"mark": {"type": "text", "fontSize": 5.5, "fill": "#222222"}, "encoding": {"x": {"field": "k", "type": "nominal", "bandPosition": 1}, "y": {"value": 52.5}, "text": {"field": "edge"}}},
  {"mark": {"type": "text", "fontSize": 5.5, "fill": "#222222"}, "encoding": {"x": {"field": "k", "type": "nominal", "bandPosition": 0.5}, "y": {"value": 52.5}, "text": {"field": "mid"}}},
  {"transform": [{"filter": "datum.k == 's3'"}], "mark": {"type": "text", "text": "Wind Velocity (m/s)", "fill": "#333333"}, "encoding": {"x": {"field": "k", "type": "nominal", "bandPosition": 0.5}, "y": {"value": 24}}}
 ]}
]},
 {"width": 427, "height": 34, "data": {"name": "months"}, "transform": [{"filter": "datum.m == 'Aug'"}], "layer": [
  {"mark": {"type": "rect", "color": "white"}, "encoding": {}},
  {"mark": {"type": "text", "align": "left", "baseline": "alphabetic", "font": "Lato", "fontWeight": "normal", "fontSize": 26, "fill": "black"}, "encoding": {"text": {"field": "name"}, "x": {"value": 15}, "y": {"value": 26}}}
 ]}
]},
{"spacing": 2, "vconcat": [{"spacing": 0, "vconcat": [{"spacing": 0, "hconcat": [
 {"width": 420, "height": 356, "layer": [
  {"data": {"values": [{}]}, "mark": {"type": "rect", "color": "white"}, "encoding": {}},
  {"data": {"name": "wind"}, "transform": [{"filter": "datum.m == 'Sep'"}, {"fold": ["s1","s2","s3"], "as": ["k","p"]}, {"filter": "datum.p > 0"}, {"stack": "p", "groupby": ["d"], "sort": [{"field": "k", "order": "ascending"}], "as": ["r0","r1"]}],
   "mark": {"type": "arc", "thetaOffset": -0.108, "theta2Offset": 0.108},
   "encoding": {"theta": {"field": "d", "type": "quantitative", "stack": null, "scale": {"domain": [0, 360], "range": [0, 6.283185307179586]}}, "theta2": {"field": "d"},
    "radius": {"field": "r1", "type": "quantitative", "stack": null, "scale": {"type": "linear", "zero": false, "domain": [0, 24], "range": [20, 165]}}, "radius2": {"field": "r0"},
    "color": {"field": "k", "type": "nominal", "legend": null, "scale": {"domain": ["c","s1","s2","s3","s4","s5","s6"], "range": ["#00FFFF","#FF00FF","#00FF00","#0000FF","#FF8000","#FF0000","#FFFF00"]}}}},
  {"data": {"name": "rings"}, "mark": {"type": "arc", "fillOpacity": 0, "stroke": "#555555", "strokeWidth": 0.8, "strokeDash": [1.5, 1.5]}, "encoding": {"theta": {"datum": 0, "type": "quantitative"}, "theta2": {"datum": 360}, "radius": {"field": "p", "type": "quantitative", "stack": null}, "radius2": {"value": 0}}},
  {"data": {"name": "months"}, "transform": [{"filter": "datum.m == 'Sep'"}], "mark": {"type": "arc", "color": "#00FFFF", "fill": "#00FFFF", "fillOpacity": 1, "stroke": "#333333", "strokeWidth": 0.8}, "encoding": {"theta": {"datum": 0, "type": "quantitative"}, "theta2": {"datum": 360}, "radius": {"datum": 0, "type": "quantitative", "stack": null}, "radius2": {"value": 0}}},
  {"data": {"name": "months"}, "transform": [{"filter": "datum.m == 'Sep'"}], "mark": {"type": "text", "fontSize": 6.5, "fill": "#10103a"}, "encoding": {"text": {"field": "c", "type": "quantitative", "format": ".2%"}}},
  {"data": {"name": "dirs"}, "mark": {"type": "text", "fontSize": 6.5, "fill": "#555555"}, "encoding": {"theta": {"field": "d", "type": "quantitative", "stack": null}, "radius": {"datum": 25.49, "type": "quantitative", "stack": null}, "text": {"field": "n"}}},
  {"data": {"name": "rings"}, "mark": {"type": "text", "fontWeight": "normal", "fill": "#555555", "dx": 10}, "encoding": {"theta": {"datum": 80, "type": "quantitative"}, "radius": {"field": "p", "type": "quantitative", "stack": null}, "text": {"field": "t"}}}
 ]},
 {"width": 7, "height": 356, "data": {"values": [{}]}, "mark": {"type": "rect", "color": "white"}, "encoding": {}}
]},
 {"width": 427, "height": 65, "data": {"name": "bins"}, "layer": [
  {"mark": {"type": "rect", "color": "white"}, "encoding": {}},
  {"mark": {"type": "rect", "stroke": "#555555", "strokeWidth": 0.6}, "encoding": {"x": {"field": "k", "type": "nominal", "axis": null, "scale": {"type": "band", "domain": ["c","s1","s2","s3","s4","s5","s6"], "range": [14, 408], "paddingInner": 0, "paddingOuter": 0}}, "y": {"value": 31}, "y2": {"value": 48}, "color": {"field": "k", "type": "nominal", "legend": null, "scale": {"domain": ["c","s1","s2","s3","s4","s5","s6"], "range": ["#00FFFF","#FF00FF","#00FF00","#0000FF","#FF8000","#FF0000","#FFFF00"]}}}},
  {"transform": [{"filter": "datum.k == 'c'"}], "mark": {"type": "text", "text": "Calms", "fill": "#10103a"}, "encoding": {"x": {"field": "k", "type": "nominal", "bandPosition": 0.5}, "y": {"value": 39.5}}},
  {"mark": {"type": "text", "fontSize": 5.5, "fill": "#222222"}, "encoding": {"x": {"field": "k", "type": "nominal", "bandPosition": 1}, "y": {"value": 53.5}, "text": {"field": "edge"}}},
  {"mark": {"type": "text", "fontSize": 5.5, "fill": "#222222"}, "encoding": {"x": {"field": "k", "type": "nominal", "bandPosition": 0.5}, "y": {"value": 53.5}, "text": {"field": "mid"}}},
  {"transform": [{"filter": "datum.k == 's3'"}], "mark": {"type": "text", "text": "Wind Velocity (m/s)", "fill": "#333333"}, "encoding": {"x": {"field": "k", "type": "nominal", "bandPosition": 0.5}, "y": {"value": 25}}}
 ]}
]},
 {"width": 427, "height": 34, "data": {"name": "months"}, "transform": [{"filter": "datum.m == 'Sep'"}], "layer": [
  {"mark": {"type": "rect", "color": "white"}, "encoding": {}},
  {"mark": {"type": "text", "align": "left", "baseline": "alphabetic", "font": "Lato", "fontWeight": "normal", "fontSize": 26, "fill": "black"}, "encoding": {"text": {"field": "name"}, "x": {"value": 15}, "y": {"value": 26}}}
 ]}
]}
]},
{"spacing": 2, "hconcat": [
{"spacing": 2, "vconcat": [{"spacing": 0, "vconcat": [{"spacing": 0, "hconcat": [
 {"width": 424, "height": 380, "layer": [
  {"data": {"values": [{}]}, "mark": {"type": "rect", "color": "white"}, "encoding": {}},
  {"data": {"name": "wind"}, "transform": [{"filter": "datum.m == 'Oct'"}, {"fold": ["s1","s2","s3"], "as": ["k","p"]}, {"filter": "datum.p > 0"}, {"stack": "p", "groupby": ["d"], "sort": [{"field": "k", "order": "ascending"}], "as": ["r0","r1"]}],
   "mark": {"type": "arc", "thetaOffset": -0.108, "theta2Offset": 0.108},
   "encoding": {"theta": {"field": "d", "type": "quantitative", "stack": null, "scale": {"domain": [0, 360], "range": [0, 6.283185307179586]}}, "theta2": {"field": "d"},
    "radius": {"field": "r1", "type": "quantitative", "stack": null, "scale": {"type": "linear", "zero": false, "domain": [0, 24], "range": [21.3, 176]}}, "radius2": {"field": "r0"},
    "color": {"field": "k", "type": "nominal", "legend": null, "scale": {"domain": ["c","s1","s2","s3","s4","s5","s6"], "range": ["#00FFFF","#FF00FF","#00FF00","#0000FF","#FF8000","#FF0000","#FFFF00"]}}}},
  {"data": {"name": "rings"}, "mark": {"type": "arc", "fillOpacity": 0, "stroke": "#555555", "strokeWidth": 0.8, "strokeDash": [1.5, 1.5]}, "encoding": {"theta": {"datum": 0, "type": "quantitative"}, "theta2": {"datum": 360}, "radius": {"field": "p", "type": "quantitative", "stack": null}, "radius2": {"value": 0}}},
  {"data": {"name": "months"}, "transform": [{"filter": "datum.m == 'Oct'"}], "mark": {"type": "arc", "color": "#00FFFF", "fill": "#00FFFF", "fillOpacity": 1, "stroke": "#333333", "strokeWidth": 0.8}, "encoding": {"theta": {"datum": 0, "type": "quantitative"}, "theta2": {"datum": 360}, "radius": {"datum": 0, "type": "quantitative", "stack": null}, "radius2": {"value": 0}}},
  {"data": {"name": "months"}, "transform": [{"filter": "datum.m == 'Oct'"}], "mark": {"type": "text", "fontSize": 6.5, "fill": "#10103a"}, "encoding": {"text": {"field": "c", "type": "quantitative", "format": ".2%"}}},
  {"data": {"name": "dirs"}, "mark": {"type": "text", "fontSize": 6.5, "fill": "#555555"}, "encoding": {"theta": {"field": "d", "type": "quantitative", "stack": null}, "radius": {"datum": 25.55, "type": "quantitative", "stack": null}, "text": {"field": "n"}}},
  {"data": {"name": "rings"}, "mark": {"type": "text", "fontWeight": "normal", "fill": "#555555", "dx": 10}, "encoding": {"theta": {"datum": 80, "type": "quantitative"}, "radius": {"field": "p", "type": "quantitative", "stack": null}, "text": {"field": "t"}}}
 ]},
 {"width": 3, "height": 380, "data": {"values": [{}]}, "mark": {"type": "rect", "color": "white"}, "encoding": {}}
]},
 {"width": 427, "height": 60, "data": {"name": "bins"}, "layer": [
  {"mark": {"type": "rect", "color": "white"}, "encoding": {}},
  {"mark": {"type": "rect", "stroke": "#555555", "strokeWidth": 0.6}, "encoding": {"x": {"field": "k", "type": "nominal", "axis": null, "scale": {"type": "band", "domain": ["c","s1","s2","s3","s4","s5","s6"], "range": [14, 411], "paddingInner": 0, "paddingOuter": 0}}, "y": {"value": 34}, "y2": {"value": 50.5}, "color": {"field": "k", "type": "nominal", "legend": null, "scale": {"domain": ["c","s1","s2","s3","s4","s5","s6"], "range": ["#00FFFF","#FF00FF","#00FF00","#0000FF","#FF8000","#FF0000","#FFFF00"]}}}},
  {"transform": [{"filter": "datum.k == 'c'"}], "mark": {"type": "text", "text": "Calms", "fill": "#10103a"}, "encoding": {"x": {"field": "k", "type": "nominal", "bandPosition": 0.5}, "y": {"value": 42}}},
  {"mark": {"type": "text", "fontSize": 5.5, "fill": "#222222"}, "encoding": {"x": {"field": "k", "type": "nominal", "bandPosition": 1}, "y": {"value": 56}, "text": {"field": "edge"}}},
  {"mark": {"type": "text", "fontSize": 5.5, "fill": "#222222"}, "encoding": {"x": {"field": "k", "type": "nominal", "bandPosition": 0.5}, "y": {"value": 56}, "text": {"field": "mid"}}},
  {"transform": [{"filter": "datum.k == 's3'"}], "mark": {"type": "text", "text": "Wind Velocity (m/s)", "fill": "#333333"}, "encoding": {"x": {"field": "k", "type": "nominal", "bandPosition": 0.5}, "y": {"value": 28}}}
 ]}
]},
 {"width": 427, "height": 35, "data": {"name": "months"}, "transform": [{"filter": "datum.m == 'Oct'"}], "layer": [
  {"mark": {"type": "rect", "color": "white"}, "encoding": {}},
  {"mark": {"type": "text", "align": "left", "baseline": "alphabetic", "font": "Lato", "fontWeight": "normal", "fontSize": 26, "fill": "black"}, "encoding": {"text": {"field": "name"}, "x": {"value": 15}, "y": {"value": 28}}}
 ]}
]},
{"spacing": 2, "vconcat": [{"spacing": 0, "vconcat": [{"spacing": 0, "hconcat": [
 {"width": 422, "height": 374, "layer": [
  {"data": {"values": [{}]}, "mark": {"type": "rect", "color": "white"}, "encoding": {}},
  {"data": {"name": "wind"}, "transform": [{"filter": "datum.m == 'Nov'"}, {"fold": ["s1","s2","s3"], "as": ["k","p"]}, {"filter": "datum.p > 0"}, {"stack": "p", "groupby": ["d"], "sort": [{"field": "k", "order": "ascending"}], "as": ["r0","r1"]}],
   "mark": {"type": "arc", "thetaOffset": -0.108, "theta2Offset": 0.108},
   "encoding": {"theta": {"field": "d", "type": "quantitative", "stack": null, "scale": {"domain": [0, 360], "range": [0, 6.283185307179586]}}, "theta2": {"field": "d"},
    "radius": {"field": "r1", "type": "quantitative", "stack": null, "scale": {"type": "linear", "zero": false, "domain": [0, 24], "range": [21, 174]}}, "radius2": {"field": "r0"},
    "color": {"field": "k", "type": "nominal", "legend": null, "scale": {"domain": ["c","s1","s2","s3","s4","s5","s6"], "range": ["#00FFFF","#FF00FF","#00FF00","#0000FF","#FF8000","#FF0000","#FFFF00"]}}}},
  {"data": {"name": "rings"}, "mark": {"type": "arc", "fillOpacity": 0, "stroke": "#555555", "strokeWidth": 0.8, "strokeDash": [1.5, 1.5]}, "encoding": {"theta": {"datum": 0, "type": "quantitative"}, "theta2": {"datum": 360}, "radius": {"field": "p", "type": "quantitative", "stack": null}, "radius2": {"value": 0}}},
  {"data": {"name": "months"}, "transform": [{"filter": "datum.m == 'Nov'"}], "mark": {"type": "arc", "color": "#00FFFF", "fill": "#00FFFF", "fillOpacity": 1, "stroke": "#333333", "strokeWidth": 0.8}, "encoding": {"theta": {"datum": 0, "type": "quantitative"}, "theta2": {"datum": 360}, "radius": {"datum": 0, "type": "quantitative", "stack": null}, "radius2": {"value": 0}}},
  {"data": {"name": "months"}, "transform": [{"filter": "datum.m == 'Nov'"}], "mark": {"type": "text", "fontSize": 6.5, "fill": "#10103a"}, "encoding": {"text": {"field": "c", "type": "quantitative", "format": ".2%"}}},
  {"data": {"name": "dirs"}, "mark": {"type": "text", "fontSize": 6.5, "fill": "#555555"}, "encoding": {"theta": {"field": "d", "type": "quantitative", "stack": null}, "radius": {"datum": 25.41, "type": "quantitative", "stack": null}, "text": {"field": "n"}}},
  {"data": {"name": "rings"}, "mark": {"type": "text", "fontWeight": "normal", "fill": "#555555", "dx": 10}, "encoding": {"theta": {"datum": 80, "type": "quantitative"}, "radius": {"field": "p", "type": "quantitative", "stack": null}, "text": {"field": "t"}}}
 ]},
 {"width": 5, "height": 374, "data": {"values": [{}]}, "mark": {"type": "rect", "color": "white"}, "encoding": {}}
]},
 {"width": 427, "height": 66, "data": {"name": "bins"}, "layer": [
  {"mark": {"type": "rect", "color": "white"}, "encoding": {}},
  {"mark": {"type": "rect", "stroke": "#555555", "strokeWidth": 0.6}, "encoding": {"x": {"field": "k", "type": "nominal", "axis": null, "scale": {"type": "band", "domain": ["c","s1","s2","s3","s4","s5","s6"], "range": [16, 406], "paddingInner": 0, "paddingOuter": 0}}, "y": {"value": 33}, "y2": {"value": 49.5}, "color": {"field": "k", "type": "nominal", "legend": null, "scale": {"domain": ["c","s1","s2","s3","s4","s5","s6"], "range": ["#00FFFF","#FF00FF","#00FF00","#0000FF","#FF8000","#FF0000","#FFFF00"]}}}},
  {"transform": [{"filter": "datum.k == 'c'"}], "mark": {"type": "text", "text": "Calms", "fill": "#10103a"}, "encoding": {"x": {"field": "k", "type": "nominal", "bandPosition": 0.5}, "y": {"value": 41}}},
  {"mark": {"type": "text", "fontSize": 5.5, "fill": "#222222"}, "encoding": {"x": {"field": "k", "type": "nominal", "bandPosition": 1}, "y": {"value": 55}, "text": {"field": "edge"}}},
  {"mark": {"type": "text", "fontSize": 5.5, "fill": "#222222"}, "encoding": {"x": {"field": "k", "type": "nominal", "bandPosition": 0.5}, "y": {"value": 55}, "text": {"field": "mid"}}},
  {"transform": [{"filter": "datum.k == 's3'"}], "mark": {"type": "text", "text": "Wind Velocity (m/s)", "fill": "#333333"}, "encoding": {"x": {"field": "k", "type": "nominal", "bandPosition": 0.5}, "y": {"value": 27}}}
 ]}
]},
 {"width": 427, "height": 35, "data": {"name": "months"}, "transform": [{"filter": "datum.m == 'Nov'"}], "layer": [
  {"mark": {"type": "rect", "color": "white"}, "encoding": {}},
  {"mark": {"type": "text", "align": "left", "baseline": "alphabetic", "font": "Lato", "fontWeight": "normal", "fontSize": 26, "fill": "black"}, "encoding": {"text": {"field": "name"}, "x": {"value": 15}, "y": {"value": 28}}}
 ]}
]},
{"spacing": 2, "vconcat": [{"spacing": 0, "vconcat": [{"spacing": 0, "hconcat": [
 {"width": 422, "height": 374, "layer": [
  {"data": {"values": [{}]}, "mark": {"type": "rect", "color": "white"}, "encoding": {}},
  {"data": {"name": "wind"}, "transform": [{"filter": "datum.m == 'Dec'"}, {"fold": ["s1","s2","s3"], "as": ["k","p"]}, {"filter": "datum.p > 0"}, {"stack": "p", "groupby": ["d"], "sort": [{"field": "k", "order": "ascending"}], "as": ["r0","r1"]}],
   "mark": {"type": "arc", "thetaOffset": -0.108, "theta2Offset": 0.108},
   "encoding": {"theta": {"field": "d", "type": "quantitative", "stack": null, "scale": {"domain": [0, 360], "range": [0, 6.283185307179586]}}, "theta2": {"field": "d"},
    "radius": {"field": "r1", "type": "quantitative", "stack": null, "scale": {"type": "linear", "zero": false, "domain": [0, 24], "range": [21, 174]}}, "radius2": {"field": "r0"},
    "color": {"field": "k", "type": "nominal", "legend": null, "scale": {"domain": ["c","s1","s2","s3","s4","s5","s6"], "range": ["#00FFFF","#FF00FF","#00FF00","#0000FF","#FF8000","#FF0000","#FFFF00"]}}}},
  {"data": {"name": "rings"}, "mark": {"type": "arc", "fillOpacity": 0, "stroke": "#555555", "strokeWidth": 0.8, "strokeDash": [1.5, 1.5]}, "encoding": {"theta": {"datum": 0, "type": "quantitative"}, "theta2": {"datum": 360}, "radius": {"field": "p", "type": "quantitative", "stack": null}, "radius2": {"value": 0}}},
  {"data": {"name": "months"}, "transform": [{"filter": "datum.m == 'Dec'"}], "mark": {"type": "arc", "color": "#00FFFF", "fill": "#00FFFF", "fillOpacity": 1, "stroke": "#333333", "strokeWidth": 0.8}, "encoding": {"theta": {"datum": 0, "type": "quantitative"}, "theta2": {"datum": 360}, "radius": {"datum": 0, "type": "quantitative", "stack": null}, "radius2": {"value": 0}}},
  {"data": {"name": "months"}, "transform": [{"filter": "datum.m == 'Dec'"}], "mark": {"type": "text", "fontSize": 6.5, "fill": "#10103a"}, "encoding": {"text": {"field": "c", "type": "quantitative", "format": ".2%"}}},
  {"data": {"name": "dirs"}, "mark": {"type": "text", "fontSize": 6.5, "fill": "#555555"}, "encoding": {"theta": {"field": "d", "type": "quantitative", "stack": null}, "radius": {"datum": 25.41, "type": "quantitative", "stack": null}, "text": {"field": "n"}}},
  {"data": {"name": "rings"}, "mark": {"type": "text", "fontWeight": "normal", "fill": "#555555", "dx": 10}, "encoding": {"theta": {"datum": 80, "type": "quantitative"}, "radius": {"field": "p", "type": "quantitative", "stack": null}, "text": {"field": "t"}}}
 ]},
 {"width": 5, "height": 374, "data": {"values": [{}]}, "mark": {"type": "rect", "color": "white"}, "encoding": {}}
]},
 {"width": 427, "height": 66, "data": {"name": "bins"}, "layer": [
  {"mark": {"type": "rect", "color": "white"}, "encoding": {}},
  {"mark": {"type": "rect", "stroke": "#555555", "strokeWidth": 0.6}, "encoding": {"x": {"field": "k", "type": "nominal", "axis": null, "scale": {"type": "band", "domain": ["c","s1","s2","s3","s4","s5","s6"], "range": [15, 407], "paddingInner": 0, "paddingOuter": 0}}, "y": {"value": 33}, "y2": {"value": 49.5}, "color": {"field": "k", "type": "nominal", "legend": null, "scale": {"domain": ["c","s1","s2","s3","s4","s5","s6"], "range": ["#00FFFF","#FF00FF","#00FF00","#0000FF","#FF8000","#FF0000","#FFFF00"]}}}},
  {"transform": [{"filter": "datum.k == 'c'"}], "mark": {"type": "text", "text": "Calms", "fill": "#10103a"}, "encoding": {"x": {"field": "k", "type": "nominal", "bandPosition": 0.5}, "y": {"value": 41}}},
  {"mark": {"type": "text", "fontSize": 5.5, "fill": "#222222"}, "encoding": {"x": {"field": "k", "type": "nominal", "bandPosition": 1}, "y": {"value": 55}, "text": {"field": "edge"}}},
  {"mark": {"type": "text", "fontSize": 5.5, "fill": "#222222"}, "encoding": {"x": {"field": "k", "type": "nominal", "bandPosition": 0.5}, "y": {"value": 55}, "text": {"field": "mid"}}},
  {"transform": [{"filter": "datum.k == 's3'"}], "mark": {"type": "text", "text": "Wind Velocity (m/s)", "fill": "#333333"}, "encoding": {"x": {"field": "k", "type": "nominal", "bandPosition": 0.5}, "y": {"value": 27}}}
 ]}
]},
 {"width": 427, "height": 35, "data": {"name": "months"}, "transform": [{"filter": "datum.m == 'Dec'"}], "layer": [
  {"mark": {"type": "rect", "color": "white"}, "encoding": {}},
  {"mark": {"type": "text", "align": "left", "baseline": "alphabetic", "font": "Lato", "fontWeight": "normal", "fontSize": 26, "fill": "black"}, "encoding": {"text": {"field": "name"}, "x": {"value": 15}, "y": {"value": 28}}}
 ]}
]}
]}
]
}
